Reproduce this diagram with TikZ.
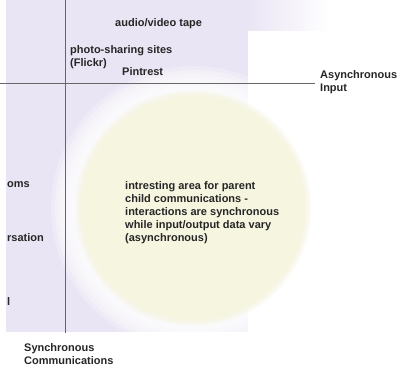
\documentclass[tikz,border=0pt]{standalone}
\usepackage{fontspec}
\setmainfont{Liberation Sans}
\definecolor{lavender}{RGB}{234,229,244}
\definecolor{cream}{RGB}{246,245,224}
\definecolor{ink}{RGB}{38,38,38}
\tikzset{
  lbl/.style={font=\bfseries\fontsize{11}{13}\selectfont, text=ink,
    inner sep=0pt, align=left, anchor=west},
  axis/.style={draw=black!60, line width=0.9pt}
}
\begin{document}
\begin{tikzpicture}[x=1pt,y=-1pt]
  \useasboundingbox (0,0) rectangle (401,368);
  % lavender backdrop
  \fill[lavender] (6,0) rectangle (248,332);
  \shade[left color=lavender, right color=white] (248,0) rectangle (330,30);
  % white glow round the circle, then a soft-edged cream disc
  \foreach \r in {142,138,...,118}
    \fill[white, opacity=0.25] (193,208) circle (\r);
  \foreach \r in {118,116,114}
    \fill[cream, opacity=0.35] (193,208) circle (\r);
  \fill[cream] (193,208) circle (112);

  \draw
    (115,24) node[lbl] (tape){audio/video tape}
    (70,57) node[lbl] (photo){photo-sharing sites\\(Flickr)}
    (122,72) node[lbl] (pin){Pintrest}
    (320,82.5) node[lbl] (async){Asynchronous\\Input}
    (7,185) node[lbl] (rooms){oms}
    (7,238) node[lbl] (talk){rsation}
    (7,302) node[lbl] (last){l}
    (24,354.5) node[lbl] (sync){Synchronous\\Communications}
    (125,212.5) node[lbl] (note){intresting area for parent\\child communications -\\interactions are synchronous\\while input/output data vary\\(asynchronous)};
  \coordinate (top) at (65,0);
  \coordinate (bottom) at (65,333);
  \coordinate (left) at (0,83);
  \begin{scope}[axis]
    \draw (top) to (bottom);
    \draw (left) to ([xshift=-5pt]async.west |- left);
  \end{scope}
\end{tikzpicture}
\end{document}
